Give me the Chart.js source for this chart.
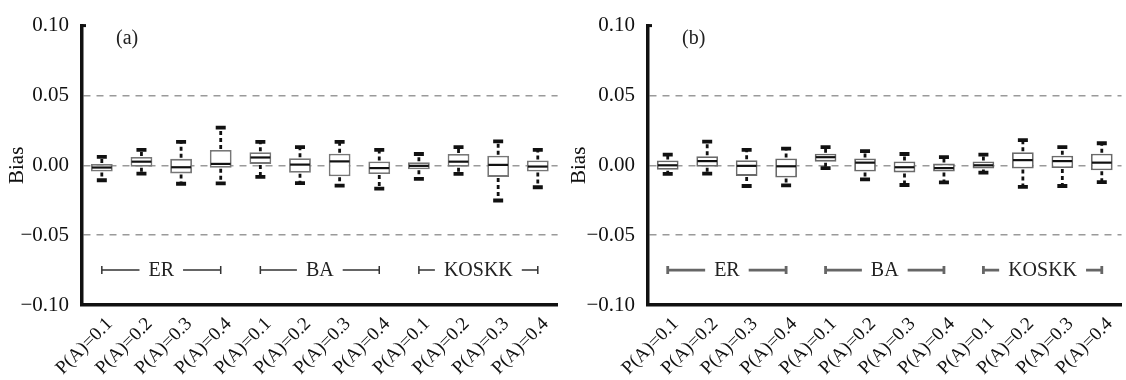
<!DOCTYPE html>
<html>
<head>
<meta charset="utf-8">
<script src="https://cdn.jsdelivr.net/npm/chart.js@4.4.1/dist/chart.umd.min.js"></script>
<style>
  html, body { margin:0; padding:0; background:#fff; }
  #wrap { position:relative; width:1126px; height:380px; overflow:hidden; }
  canvas { position:absolute; top:0; }
</style>
</head>
<body>
<div id="wrap">
  <canvas id="ca" width="562" height="380" style="left:0px"></canvas>
  <canvas id="cb" width="564" height="380" style="left:562px"></canvas>
</div>
<script>
// ---- data ----
const categories = ['P(A)=0.1','P(A)=0.2','P(A)=0.3','P(A)=0.4',
                    'P(A)=0.1','P(A)=0.2','P(A)=0.3','P(A)=0.4',
                    'P(A)=0.1','P(A)=0.2','P(A)=0.3','P(A)=0.4'];
const groups = ['ER','BA','KOSKK'];
const yTicks = [-0.10, -0.05, 0, 0.05, 0.10];
const yTickLabels = ['\u22120.10','\u22120.05','0.00','0.05','0.10'];

// panel (a)
const aMin    = [-0.0107,-0.0060,-0.0132,-0.0130,-0.0083,-0.0128,-0.0146,-0.0167,-0.0097,-0.0062,-0.0252,-0.0157];
const aQ1     = [-0.0044,-0.0011,-0.0058,-0.0018, 0.0010,-0.0053,-0.0078,-0.0062,-0.0028,-0.0011,-0.0083,-0.0044];
const aMedian = [-0.0016, 0.0026,-0.0014, 0.0010, 0.0056, 0.0005, 0.0028,-0.0020,-0.0004, 0.0026, 0.0003,-0.0009];
const aQ3     = [ 0.0010, 0.0060, 0.0046, 0.0109, 0.0093, 0.0051, 0.0083, 0.0028, 0.0021, 0.0081, 0.0069, 0.0035];
const aMax    = [ 0.0060, 0.0110, 0.0167, 0.0269, 0.0167, 0.0130, 0.0167, 0.0110, 0.0081, 0.0130, 0.0171, 0.0110];

// panel (b)
const bMin    = [-0.0062,-0.0060,-0.0148,-0.0143,-0.0020,-0.0101,-0.0141,-0.0122,-0.0053,-0.0155,-0.0148,-0.0120];
const bQ1     = [-0.0032,-0.0011,-0.0076,-0.0088, 0.0026,-0.0044,-0.0051,-0.0044,-0.0023,-0.0023,-0.0020,-0.0035];
const bMedian = [ 0.0000, 0.0030,-0.0004,-0.0007, 0.0058, 0.0019,-0.0014,-0.0020, 0.0000, 0.0037, 0.0030, 0.0019];
const bQ3     = [ 0.0035, 0.0065, 0.0037, 0.0049, 0.0083, 0.0049, 0.0028, 0.0012, 0.0028, 0.0093, 0.0069, 0.0083];
const bMax    = [ 0.0076, 0.0169, 0.0110, 0.0120, 0.0130, 0.0102, 0.0081, 0.0058, 0.0076, 0.0180, 0.0130, 0.0158];

const SERIF = '"Liberation Serif", "DejaVu Serif", serif';

const boxPlugin = {
  id: 'boxExtras',
  afterDatasetsDraw(chart, args, opts) {
    const ctx = chart.ctx;
    const x = chart.scales.x, y = chart.scales.y;
    const meta = chart.getDatasetMeta(0);
    const st = opts.stats;
    ctx.save();
    meta.data.forEach((bar, i) => {
      const cx = bar.x, hw = bar.width / 2;
      const yMin = y.getPixelForValue(st.min[i]);
      const yQ1 = y.getPixelForValue(st.q1[i]);
      const yQ3 = y.getPixelForValue(st.q3[i]);
      const yMax = y.getPixelForValue(st.max[i]);
      const yMed = y.getPixelForValue(st.median[i]);
      // whiskers
      ctx.strokeStyle = '#111';
      ctx.lineWidth = 2.8;
      ctx.setLineDash([4, 3]);
      ctx.beginPath();
      ctx.moveTo(cx, yQ3 - 1); ctx.lineTo(cx, yMax);
      ctx.moveTo(cx, yQ1 + 1); ctx.lineTo(cx, yMin);
      ctx.stroke();
      ctx.setLineDash([]);
      // caps
      ctx.lineWidth = 3.8;
      ctx.beginPath();
      ctx.moveTo(cx - 5, yMax); ctx.lineTo(cx + 5, yMax);
      ctx.moveTo(cx - 5, yMin); ctx.lineTo(cx + 5, yMin);
      ctx.stroke();
      // median
      ctx.lineWidth = 2.2;
      ctx.strokeStyle = '#111';
      ctx.beginPath();
      ctx.moveTo(cx - hw + 1, yMed); ctx.lineTo(cx + hw - 1, yMed);
      ctx.stroke();
    });
    // group labels
    const gy = y.getPixelForValue(-0.075);
    ctx.font = '20px ' + SERIF;
    ctx.textAlign = 'center';
    ctx.textBaseline = 'middle';
    groups.forEach((g, k) => {
      const x1 = x.getPixelForValue(k * 4);
      const x2 = x.getPixelForValue(k * 4 + 3);
      const xc = (x1 + x2) / 2;
      const tw = ctx.measureText(g).width;
      ctx.strokeStyle = opts.groupColor;
      ctx.lineWidth = opts.groupWidth;
      ctx.beginPath();
      ctx.moveTo(x1, gy); ctx.lineTo(xc - tw / 2 - 9, gy);
      ctx.moveTo(xc + tw / 2 + 9, gy); ctx.lineTo(x2, gy);
      ctx.moveTo(x1, gy - 4); ctx.lineTo(x1, gy + 4);
      ctx.moveTo(x2, gy - 4); ctx.lineTo(x2, gy + 4);
      ctx.stroke();
      ctx.fillStyle = '#222';
      ctx.fillText(g, xc, gy + 1);
    });
    // top stub of y axis
    const ytop = y.getPixelForValue(0.10);
    ctx.strokeStyle = '#111';
    ctx.lineWidth = 3;
    ctx.beginPath();
    ctx.moveTo(chart.chartArea.left - 1.5, ytop);
    ctx.lineTo(chart.chartArea.left + 4, ytop);
    ctx.stroke();
    // panel label
    ctx.fillStyle = '#222';
    ctx.textAlign = 'left';
    ctx.font = '20px ' + SERIF;
    ctx.fillText(opts.panel, chart.chartArea.left + 34, y.getPixelForValue(0.0905));
    ctx.restore();
  }
};

function makeChart(id, st, yWidth, panel, groupColor, groupWidth, boxBorder) {
  return new Chart(document.getElementById(id), {
    type: 'bar',
    data: {
      labels: categories,
      datasets: [{
        data: st.q1.map((v, i) => [v, st.q3[i]]),
        backgroundColor: '#ffffff',
        borderColor: boxBorder,
        borderWidth: 1.8,
        borderSkipped: false,
        barPercentage: 0.55,
        categoryPercentage: 1.0
      }]
    },
    options: {
      responsive: false,
      animation: false,
      devicePixelRatio: 1,
      layout: { padding: { top: 19, right: 2, left: 0, bottom: 0 } },
      plugins: {
        legend: { display: false },
        tooltip: { enabled: false },
        boxExtras: { stats: st, panel, groupColor, groupWidth }
      },
      scales: {
        x: {
          grid: { display: false, drawTicks: false },
          border: { display: true, color: '#111', width: 3.5 },
          ticks: {
            color: '#111',
            font: { family: SERIF, size: 19 },
            maxRotation: 45, minRotation: 45,
            autoSkip: false,
            padding: 8,
            labelOffset: 8
          },
          afterFit(s) { s.height = 75; }
        },
        y: {
          min: -0.10, max: 0.10,
          afterBuildTicks(s) { s.ticks = yTicks.map(v => ({ value: v })); },
          grid: {
            drawTicks: false,
            color: (c) => (Math.abs(Math.abs(c.tick ? c.tick.value : 0) - 0.10) < 1e-9 ? 'rgba(0,0,0,0)' : '#9a9a9a'),
            lineWidth: 1.5
          },
          border: { display: true, color: '#111', width: 3.5, dash: [7, 6] },
          ticks: {
            color: '#111',
            font: { family: SERIF, size: 21 },
            padding: 13,
            callback: (v, i) => yTickLabels[i]
          },
          title: {
            display: true, text: 'Bias', color: '#111',
            font: { family: SERIF, size: 21 },
            padding: { top: 5, bottom: 0 }
          },
          afterFit(s) { s.width = yWidth; }
        }
      }
    },
    plugins: [boxPlugin]
  });
}

makeChart('ca', { min: aMin, q1: aQ1, median: aMedian, q3: aQ3, max: aMax }, 82, '(a)', '#333', 1.5, '#777');
makeChart('cb', { min: bMin, q1: bQ1, median: bMedian, q3: bQ3, max: bMax }, 86, '(b)', '#666', 2.8, '#6a6a6a');
</script>
</body>
</html>
